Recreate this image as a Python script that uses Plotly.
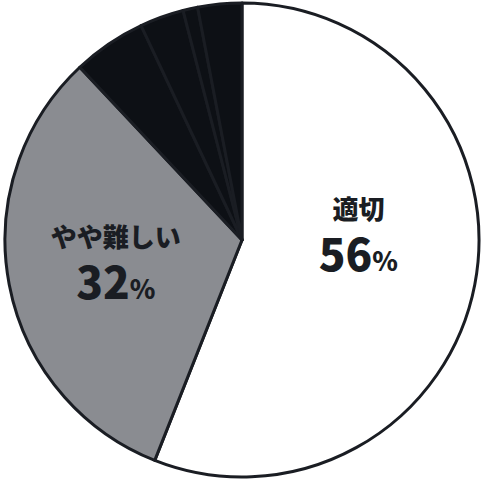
import plotly.graph_objects as go

labels = ["適切", "やや難しい", "その他A", "その他B", "その他C", "その他D"]
values = [56, 32, 5, 3, 1, 3]
colors = ["#ffffff", "#8a8c91", "#0d1015", "#0d1015", "#0d1015", "#0d1015"]
show_label = [True, True, False, False, False, False]
extra_space = [True, False, False, False, False, False]

texts = []
for lab, v, s, e in zip(labels, values, show_label, extra_space):
    if s:
        t = (f"<span style='font-size:26px'>{lab}</span><br>"
             f"<span style='font-size:44px'>{v}</span><span style='font-size:26px'>%</span>")
        if e:
            t += "<br> "
        texts.append(t)
    else:
        texts.append("")

fig = go.Figure(go.Pie(
    labels=labels,
    values=values,
    text=texts,
    textinfo="text",
    textposition="inside",
    insidetextorientation="horizontal",
    sort=False,
    direction="clockwise",
    rotation=0,
    marker=dict(colors=colors, line=dict(color="#1a1d23", width=3)),
    textfont=dict(family="Noto Sans CJK JP", size=40, color="#1a1d23", weight=900),
    showlegend=False,
    hoverinfo="skip",
))
fig.update_layout(
    width=484, height=484,
    margin=dict(l=5, r=5, t=3, b=7),
    paper_bgcolor="#ffffff",
    plot_bgcolor="#ffffff",
    uniformtext=dict(minsize=8, mode=False),
)
fig.write_html("out.html", config={"displayModeBar": False},
               post_script="document.body.style.margin='0';")
